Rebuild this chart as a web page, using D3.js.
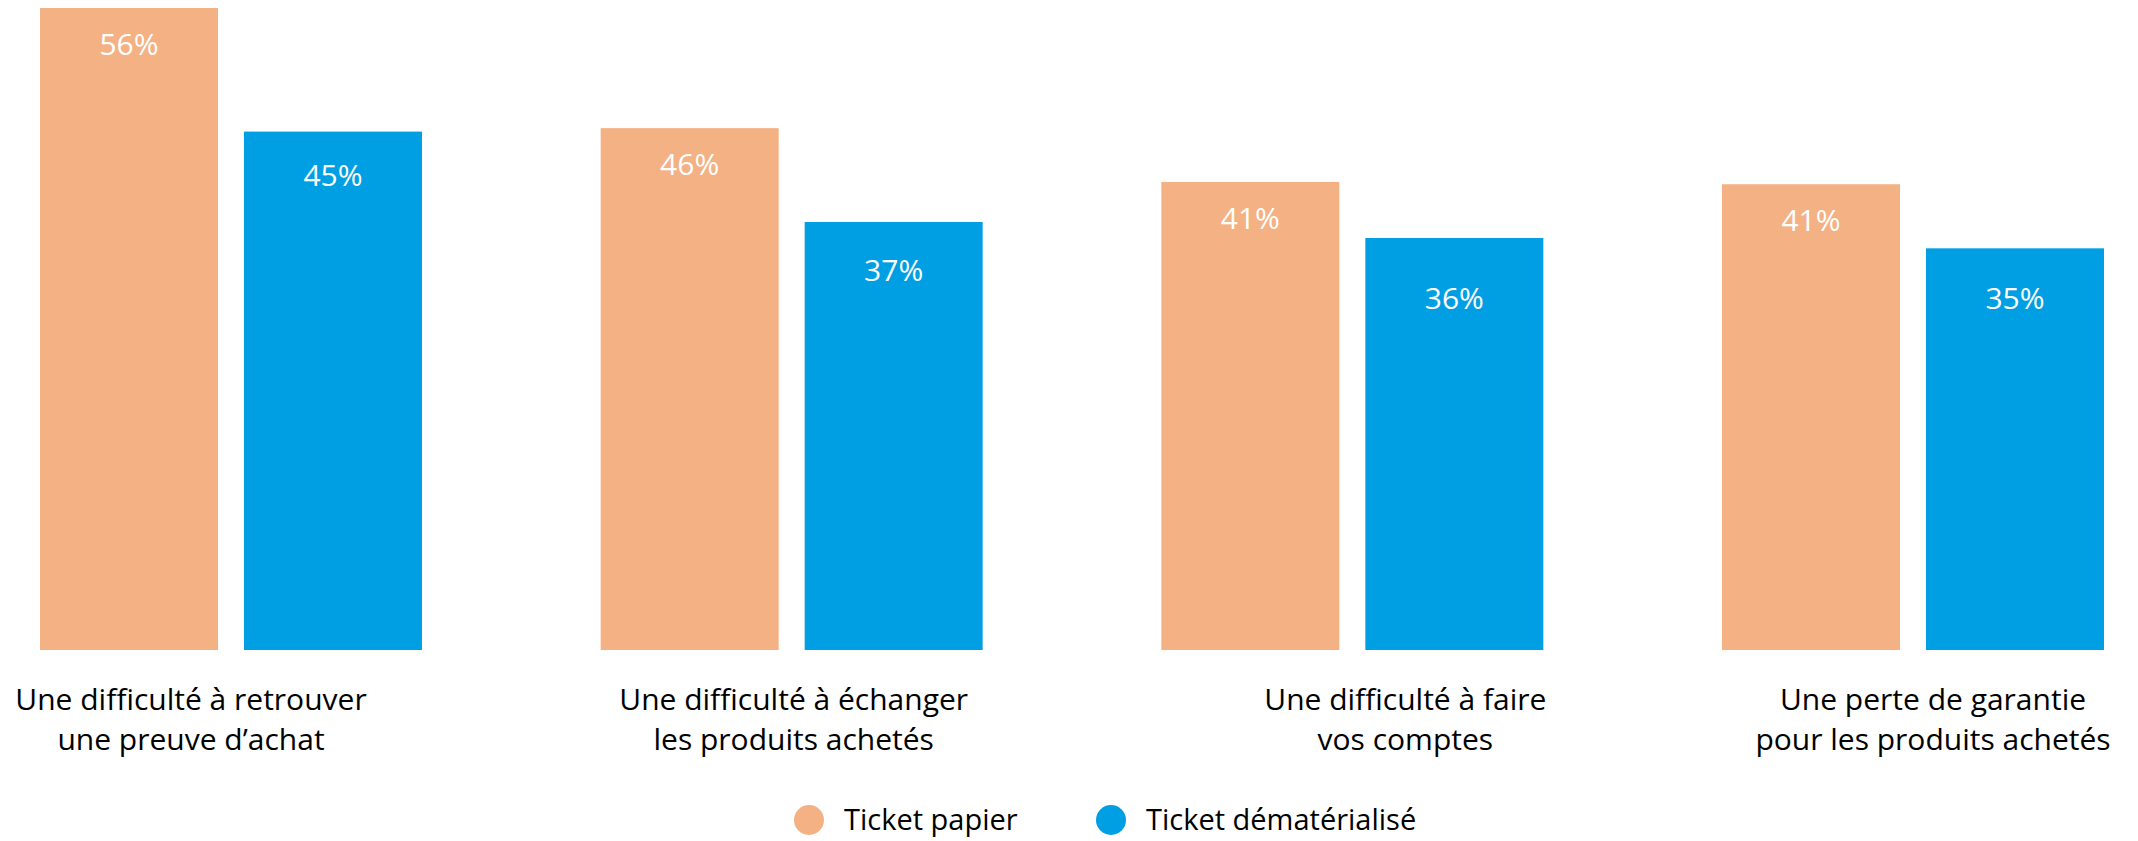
<!DOCTYPE html>
<html lang="fr">
<head>
<meta charset="UTF-8">
<title>Ticket papier vs dématérialisé</title>
<style>
  body { margin: 0; background: #fff; }
  text { font-family: "Segoe UI", "Open Sans", "Noto Sans", sans-serif; }
</style>
</head>
<body>
<script src="https://cdn.jsdelivr.net/npm/d3@7"></script>
<script>
// data
var categories = [
  ["Une difficulté à retrouver", "une preuve d’achat"],
  ["Une difficulté à échanger", "les produits achetés"],
  ["Une difficulté à faire", "vos comptes"],
  ["Une perte de garantie", "pour les produits achetés"]
]
var series = ["Ticket papier", "Ticket dématérialisé"]
var papier = [56.1, 45.6, 40.9, 40.7]
var dematerialise = [45.3, 37.4, 36.0, 35.1]

// layout
var width = 2138, height = 841
var colors = ["#F4B183", "#009FE3"]
var labelDx = [-40, 2, 53, 20]
// baseline of value label below the bar top, per series and category
var valueDy = [[47, 47, 47, 47], [54, 59, 71, 61]]

var svg = d3.select("body").append("svg")
    .attr("width", width).attr("height", height)

var keys = categories.map(function(c, i){ return "c" + i })
var x0 = d3.scaleBand().domain(keys).range([40, 2104]).paddingInner(0.3187).paddingOuter(0)
var x1 = d3.scaleBand().domain(series).range([0, x0.bandwidth()]).paddingInner(0.1275)
var y = d3.scaleLinear().domain([0, 56.1]).range([650, 8])

var rows = categories.map(function(c, i){
  return { key: keys[i], i: i, lines: c, values: [papier[i], dematerialise[i]] }
})

var group = svg.append("g").selectAll("g").data(rows).enter().append("g")
    .attr("transform", function(d){ return "translate(" + x0(d.key) + ",0)" })

var bars = group.selectAll("g.bar")
    .data(function(d){ return d.values.map(function(v, j){ return { s: series[j], v: v, j: j, i: d.i } }) })
    .enter().append("g").attr("class", "bar")

bars.append("rect")
    .attr("x", function(d){ return x1(d.s) })
    .attr("y", function(d){ return y(d.v) })
    .attr("width", x1.bandwidth())
    .attr("height", function(d){ return y(0) - y(d.v) })
    .attr("fill", function(d){ return colors[d.j] })

bars.append("text")
    .attr("x", function(d){ return x1(d.s) + x1.bandwidth() / 2 })
    .attr("y", function(d){ return y(d.v) + valueDy[d.j][d.i] })
    .attr("text-anchor", "middle")
    .attr("fill", "#fff")
    .style("font-size", "30px")
    .text(function(d){ return Math.round(d.v) + "%" })

// category labels under each group
var lab = group.append("text")
    .attr("text-anchor", "middle")
    .attr("fill", "#000")
    .style("font-size", "30px")
    .attr("transform", function(d, i){ return "translate(" + (x0.bandwidth() / 2 + labelDx[i]) + ",710)" })
lab.selectAll("tspan").data(function(d){ return d.lines }).enter().append("tspan")
    .attr("x", 0)
    .attr("dy", function(d, i){ return i ? 40 : 0 })
    .text(function(d){ return d })

// legend
var legendX = [809, 1111]
var leg = svg.append("g").selectAll("g").data(series).enter().append("g")
    .attr("transform", function(d, i){ return "translate(" + legendX[i] + ",820)" })
leg.append("circle").attr("r", 15).attr("fill", function(d, i){ return colors[i] })
leg.append("text").attr("x", 35).attr("dy", "0.35em")
    .attr("fill", "#000")
    .style("font-size", "29px")
    .text(function(d){ return d })
</script>
</body>
</html>
